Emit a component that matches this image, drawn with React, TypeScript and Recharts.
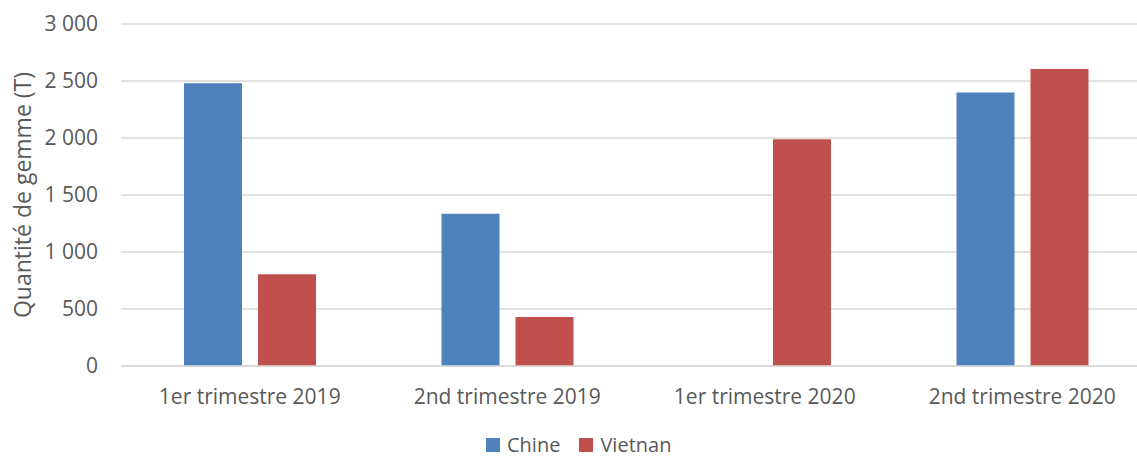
import React from 'react';
import { BarChart, Bar, XAxis, YAxis, CartesianGrid, Legend, Label } from 'recharts';

// Quarterly quantities (tonnes) by destination
const quarters = ['1er trimestre 2019', '2nd trimestre 2019', '1er trimestre 2020', '2nd trimestre 2020'];
const chine = [2480, 1335, null, 2400];
const vietnan = [805, 430, 1990, 2605];
const yTicks = [0, 500, 1000, 1500, 2000, 2500, 3000];

const data = quarters.map((q, i) => ({ quarter: q, Chine: chine[i], Vietnan: vietnan[i] }));

const FONT = '"Open Sans", sans-serif';
const TEXT = '#595959';
const FS = 21;

const fmt = (v: number) => v.toLocaleString('fr-FR').replace(/\u202f|\u00a0/g, ' ');

const YTitle = (props: any) => {
  const { viewBox } = props;
  const cx = viewBox.x + 22;
  const cy = viewBox.y + viewBox.height / 2;
  return (
    <text
      x={cx}
      y={cy}
      transform={`rotate(-90, ${cx}, ${cy})`}
      textAnchor="middle"
      dominantBaseline="central"
      fill={TEXT}
      fontSize={23}
      fontFamily={FONT}
    >
      Quantité de gemme (T)
    </text>
  );
};

const LegendContent = (props: any) => {
  const { payload } = props;
  return (
    <div style={{ display: 'flex', fontFamily: FONT, fontSize: 20, color: TEXT, lineHeight: '18px', whiteSpace: 'nowrap' }}>
      {payload.map((p: any) => (
        <div key={p.value} style={{ display: 'flex', alignItems: 'center', marginRight: 19 }}>
          <span style={{ display: 'inline-block', width: 14, height: 14, background: p.color, marginRight: 7 }} />
          <span>{p.value}</span>
        </div>
      ))}
    </div>
  );
};

export default function App() {
  return (
    <div style={{ position: 'absolute', left: 0, top: 0, width: 1137, height: 458, overflow: 'hidden', background: '#fff' }}>
      <BarChart
        width={1160}
        height={458}
        data={data}
        margin={{ top: 24, right: 9, bottom: 52, left: 0 }}
        barSize={58}
        barGap={16}
      >
        <CartesianGrid vertical={false} stroke="#d9d9d9" strokeWidth={1.3} />
        <XAxis
          dataKey="quarter"
          axisLine={{ stroke: '#d9d9d9', strokeWidth: 1.3 }}
          tickLine={false}
          tickSize={0}
          tickMargin={23}
          fontSize={FS}
          tick={{ fill: TEXT, fontSize: FS, fontFamily: FONT }}
          height={40}
        />
        <YAxis
          width={121}
          domain={[0, 3000]}
          ticks={yTicks}
          interval={0}
          axisLine={false}
          tickLine={false}
          tickSize={0}
          tickMargin={23}
          fontSize={FS}
          tickFormatter={fmt}
          tick={{ fill: TEXT, fontSize: FS, fontFamily: FONT }}
        >
          <Label content={<YTitle />} />
        </YAxis>
        <Legend
          layout="horizontal"
          verticalAlign="middle"
          align="center"
          wrapperStyle={{ left: 486, top: 436, width: 320, height: 18 }}
          content={<LegendContent />}
        />
        <Bar dataKey="Chine" fill="#4f81bd" isAnimationActive={false} />
        <Bar dataKey="Vietnan" fill="#c0504d" isAnimationActive={false} />
      </BarChart>
    </div>
  );
}
